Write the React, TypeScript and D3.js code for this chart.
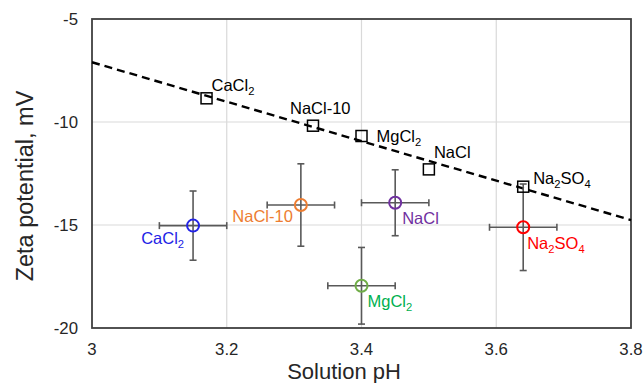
import React from 'react';
import * as d3 from 'd3';

// salts, in the same order for both series
const saltNames = ['CaCl2', 'NaCl-10', 'MgCl2', 'NaCl', 'Na2SO4'];

// open squares (black) on the trend line
const squarePH = [3.17, 3.328, 3.4, 3.5, 3.64];
const squareZeta = [-8.85, -10.18, -10.68, -12.3, -13.14];

// open circles with error bars
const circlePH = [3.15, 3.31, 3.4, 3.45, 3.64];
const circleZeta = [-15.03, -14.03, -17.95, -13.92, -15.11];
const circleErrPH = [0.05, 0.05, 0.05, 0.05, 0.05];
const circleErrZeta = [1.68, 2.0, 1.86, 1.6, 2.1];

// dashed trend line endpoints
const trendPH = [3.0, 3.8];
const trendZeta = [-7.1, -14.76];

const xTicks = [3, 3.2, 3.4, 3.6, 3.8];
const yTicks = [-5, -10, -15, -20];

const circleColors = ['#2323e6', '#ed7d31', '#70ad47', '#7030a0', '#ff0000'];
const circleTextColors = ['#2323e6', '#ed7d31', '#00b050', '#7030a0', '#ff0000'];

// label offsets from the marker: [dx, dy, anchor]
const squareLabelPos: [number, number, string][] = [
  [5, -7, 'start'],
  [-23, -12, 'start'],
  [15, 6, 'start'],
  [5, -11, 'start'],
  [10, -3, 'start'],
];
const circleLabelPos: [number, number, string][] = [
  [-9, 18, 'end'],
  [-8, 17, 'end'],
  [6, 21, 'start'],
  [7, 21, 'start'],
  [4, 22, 'start'],
];

const W = 644;
const H = 383;
const margin = { top: 19, right: 13, bottom: 55, left: 92 };

const font = '"Liberation Sans", Arial, sans-serif';

// CaCl2 -> CaCl + subscript 2 (digits after a letter only)
function chemLabel(name: string, size: number) {
  const parts = name.split(/(?<=[A-Za-z])(\d+)/).filter((p) => p !== '');
  return parts.map((p, i) => {
    const isSub = /^\d+$/.test(p) && i > 0 && /[A-Za-z]$/.test(parts[i - 1]);
    if (isSub) {
      return (
        <tspan key={i} fontSize={size * 0.68} dy={size * 0.25}>
          {p}
        </tspan>
      );
    }
    const prevSub = i > 0 && /^\d+$/.test(p) === false && /^\d+$/.test(parts[i - 1]);
    return (
      <tspan key={i} dy={prevSub ? -size * 0.25 : 0}>
        {p}
      </tspan>
    );
  });
}

export default function App() {
  const x = d3
    .scaleLinear()
    .domain([3, 3.8])
    .range([margin.left, W - margin.right]);
  const y = d3
    .scaleLinear()
    .domain([-20, -5])
    .range([H - margin.bottom, margin.top]);

  const trend = d3
    .line<number>()
    .x((d) => x(trendPH[d]))
    .y((d) => y(trendZeta[d]))([0, 1]);

  const barColor = '#595959';
  const cap = 3.5;
  const sq = 11;
  const labelSize = 16.5;

  return (
    <svg
      width={W}
      height={H}
      style={{ position: 'absolute', left: 0, top: 0, background: '#fff' }}
      fontFamily={font}
    >
      {/* gridlines */}
      {xTicks.slice(1, -1).map((t) => (
        <line key={'gx' + t} x1={x(t)} x2={x(t)} y1={y(-5)} y2={y(-20)} stroke="#d9d9d9" strokeWidth={1.2} />
      ))}
      {yTicks.slice(1, -1).map((t) => (
        <line key={'gy' + t} x1={x(3)} x2={x(3.8)} y1={y(t)} y2={y(t)} stroke="#d9d9d9" strokeWidth={1.2} />
      ))}

      {/* plot frame */}
      <rect
        x={x(3)}
        y={y(-5)}
        width={x(3.8) - x(3)}
        height={y(-20) - y(-5)}
        fill="none"
        stroke="#404040"
        strokeWidth={1.8}
      />

      {/* tick labels */}
      {xTicks.map((t) => (
        <text key={'tx' + t} x={x(t)} y={y(-20) + 27} textAnchor="middle" fontSize={16.8} fill="#262626">
          {String(t)}
        </text>
      ))}
      {yTicks.map((t) => (
        <text key={'ty' + t} x={x(3) - 14} y={y(t) + 6} textAnchor="end" fontSize={16.8} fill="#262626">
          {String(t)}
        </text>
      ))}

      {/* axis titles */}
      <text x={344} y={378.5} textAnchor="middle" fontSize={22} fill="#262626">
        Solution pH
      </text>
      <text
        transform={`translate(33,186) rotate(-90)`}
        textAnchor="middle"
        fontSize={23.5}
        fill="#262626"
      >
        Zeta potential, mV
      </text>

      {/* trend line */}
      <path d={trend ?? ''} fill="none" stroke="#000" strokeWidth={2.4} strokeDasharray="8,5" />

      {/* error bars */}
      {circlePH.map((p, i) => {
        const cx = x(p);
        const cy = y(circleZeta[i]);
        const x0 = x(p - circleErrPH[i]);
        const x1 = x(p + circleErrPH[i]);
        const y0 = y(circleZeta[i] - circleErrZeta[i]);
        const y1 = y(circleZeta[i] + circleErrZeta[i]);
        return (
          <g key={'eb' + i} stroke={barColor} strokeWidth={1.6}>
            <line x1={x0} x2={x1} y1={cy} y2={cy} />
            <line x1={x0} x2={x0} y1={cy - cap} y2={cy + cap} />
            <line x1={x1} x2={x1} y1={cy - cap} y2={cy + cap} />
            <line x1={cx} x2={cx} y1={y0} y2={y1} />
            <line x1={cx - cap} x2={cx + cap} y1={y0} y2={y0} />
            <line x1={cx - cap} x2={cx + cap} y1={y1} y2={y1} />
          </g>
        );
      })}

      {/* squares */}
      {squarePH.map((p, i) => (
        <rect
          key={'sq' + i}
          x={x(p) - sq / 2}
          y={y(squareZeta[i]) - sq / 2}
          width={sq}
          height={sq}
          fill="none"
          stroke="#000"
          strokeWidth={1.5}
        />
      ))}
      {squarePH.map((p, i) => (
        <text
          key={'sl' + i}
          x={x(p) + squareLabelPos[i][0]}
          y={y(squareZeta[i]) + squareLabelPos[i][1]}
          textAnchor={squareLabelPos[i][2]}
          fontSize={labelSize}
          fill="#000"
        >
          {chemLabel(saltNames[i], labelSize)}
        </text>
      ))}

      {/* circles */}
      {circlePH.map((p, i) => (
        <circle
          key={'c' + i}
          cx={x(p)}
          cy={y(circleZeta[i])}
          r={6}
          fill="none"
          stroke={circleColors[i]}
          strokeWidth={2}
        />
      ))}
      {circlePH.map((p, i) => (
        <text
          key={'cl' + i}
          x={x(p) + circleLabelPos[i][0]}
          y={y(circleZeta[i]) + circleLabelPos[i][1]}
          textAnchor={circleLabelPos[i][2]}
          fontSize={labelSize}
          fill={circleTextColors[i]}
        >
          {chemLabel(saltNames[i], labelSize)}
        </text>
      ))}
    </svg>
  );
}
